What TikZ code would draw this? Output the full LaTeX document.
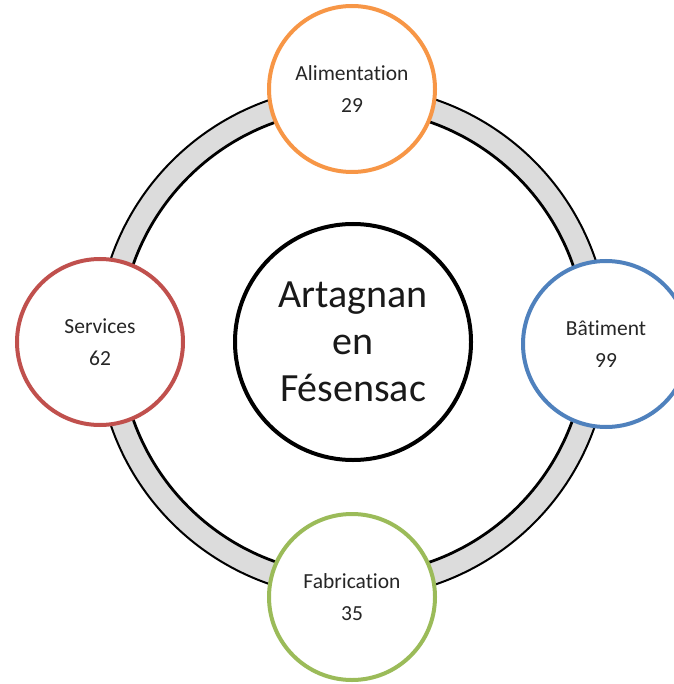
\documentclass[tikz,border=0pt]{standalone}
\usepackage{fontspec}
\setmainfont{Carlito}[Ligatures=NoCommon]
\usepackage{tikz}
\usetikzlibrary{positioning}

\definecolor{foodorange}{HTML}{F79646}
\definecolor{buildblue}{HTML}{4F81BD}
\definecolor{makegreen}{HTML}{9BBB59}
\definecolor{servred}{HTML}{C0504D}
\definecolor{ringgray}{HTML}{DCDCDC}

\begin{document}
\begin{tikzpicture}[x=1pt, y=-1pt,
  sector/.style={circle, draw, line width=4pt, fill=white, minimum size=166pt, inner sep=0pt, align=center, text=black!85, font=\fontsize{21.5}{26}\selectfont},
  hub/.style={circle, draw, line width=4pt, fill=white, minimum size=236pt, inner sep=0pt, align=center, text=black!90, font=\fontsize{40}{47}\selectfont}]
  \useasboundingbox (0,0) rectangle (673,684);
  \coordinate (mid) at (353,342);

  % grey ring behind the circles
  \fill[ringgray, even odd rule] (mid) circle[radius=256pt] (mid) circle[radius=233pt];
  \draw[line width=2pt] (mid) circle[radius=256pt];
  \draw[line width=2.8pt] (mid) circle[radius=233pt];

  \node[hub] (town) at (mid) {Artagnan\\en\\Fésensac};

  \node[sector, draw=foodorange] (food) at (352,89) {Alimentation\\[6pt]29};
  \node[sector, draw=buildblue] (build) at (606,344) {Bâtiment\\[6pt]99};
  \node[sector, draw=makegreen] (make) at (352,597) {Fabrication\\[6pt]35};
  \node[sector, draw=servred] (serv) at (100,342) {Services\\[6pt]62};
\end{tikzpicture}
\end{document}
